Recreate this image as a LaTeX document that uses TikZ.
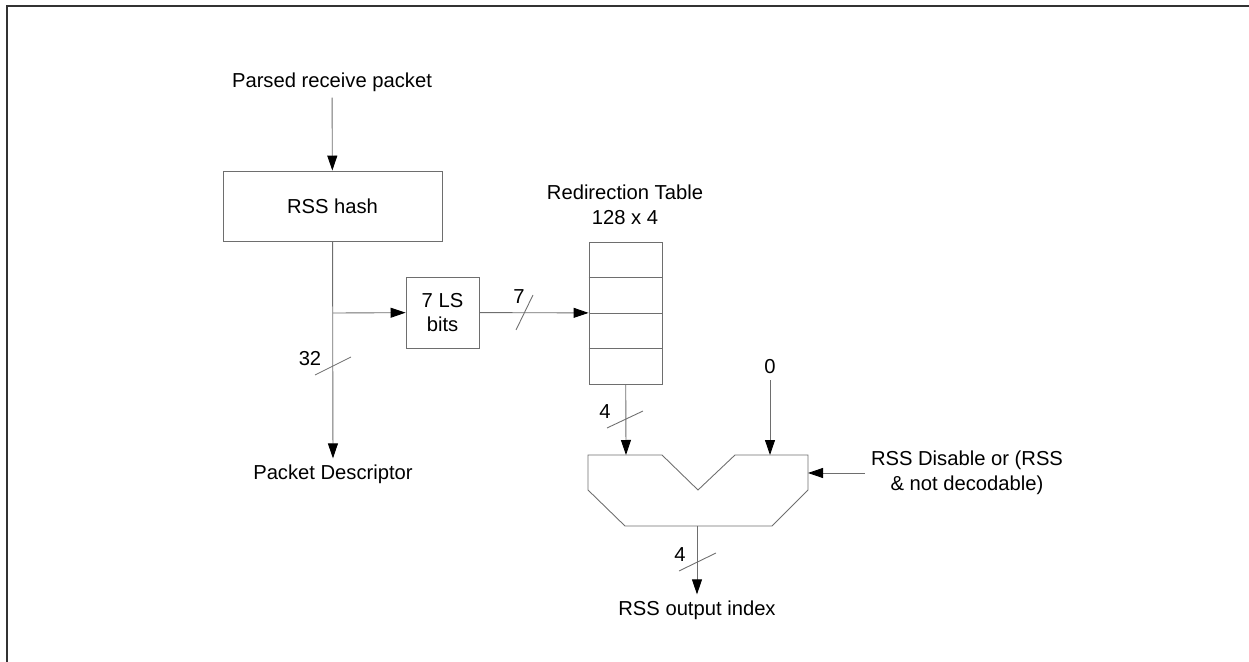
\documentclass[tikz,border=0pt]{standalone}
\usepackage{fontspec}
\setmainfont{Liberation Sans}
\usetikzlibrary{arrows.meta,positioning,calc}
\definecolor{linegray}{RGB}{110,110,110}
\definecolor{framegray}{RGB}{50,50,50}

\begin{document}
\begin{tikzpicture}[x=0.02cm, y=-0.02cm,
    font=\fontsize{11.5}{14}\selectfont,
    blk/.style={rectangle, draw=linegray, line width=0.5pt, inner sep=0pt, align=center},
    wire/.style={linegray, line width=0.5pt},
    arr/.style={-{Triangle[length=3mm, width=2mm, color=black]}, linegray, line width=0.5pt}]

    \useasboundingbox (0,0) rectangle (1249,662);

    % Frame
    \draw[framegray, line width=1.2pt] (7,662) -- (7,6) -- (1249,6);

    % Hash stage
    \node (pkt) at (332,82) {Parsed receive packet};
    \node[blk, minimum width=4.38cm, minimum height=1.4cm] (hash) at (332.5,206) {RSS hash};
    \node (desc) at (333,474) {Packet Descriptor};
    \coordinate (br) at (333,313);

    % LS bits
    \node[blk, minimum width=1.46cm, minimum height=1.42cm] (lsb) at (442.5,312.5) {7 LS\\bits};

    % Redirection table
    \node[align=center] (ttl) at (625,205) {Redirection Table\\128 x 4};
    \node[blk, minimum width=1.46cm, minimum height=2.84cm] (tbl) at (625.5,313) {};
    \foreach \i in {1,2,3}
        \draw[wire] ($(tbl.north west)!\i/4!(tbl.south west)$) -- ($(tbl.north east)!\i/4!(tbl.south east)$);

    % Multiplexer
    \draw[wire] (588,455) -- (662,455) -- (698,490) -- (735,455) -- (808,455) -- (808,490)
        -- (772,526) -- (625,526) -- (588,490) -- cycle;
    \coordinate (muxa) at (626,455);
    \coordinate (muxb) at (770,455);
    \coordinate (muxc) at (808,473);
    \coordinate (muxo) at (697,526);
    \node (zero) at (770,367) {0};
    \node[align=center] (ctl) at (967,473) {RSS Disable or (RSS\\\& not decodable)};
    \node (out) at (697,610) {RSS output index};

    % Connectors
    \draw[arr] (pkt) -- (hash);
    \draw[arr] (hash) -- (desc);
    \draw[arr] (br) -- (lsb);
    \draw[arr] (lsb) -- (tbl);
    \draw[arr] (tbl) -- (muxa);
    \draw[arr] (zero) -- (muxb);
    \draw[arr] (ctl) -- (muxc);
    \draw[arr] (muxo) -- (out);

    % Bus widths
    \draw[wire] (315,375) -- (351,357);
    \node (w32) at (310,359) {32};
    \draw[wire] (516,330) -- (533,295);
    \node (w7) at (519,297) {7};
    \draw[wire] (607,428) -- (643,411);
    \node (w4a) at (605,412) {4};
    \draw[wire] (679,571) -- (716,553);
    \node (w4b) at (680,555) {4};
\end{tikzpicture}
\end{document}
